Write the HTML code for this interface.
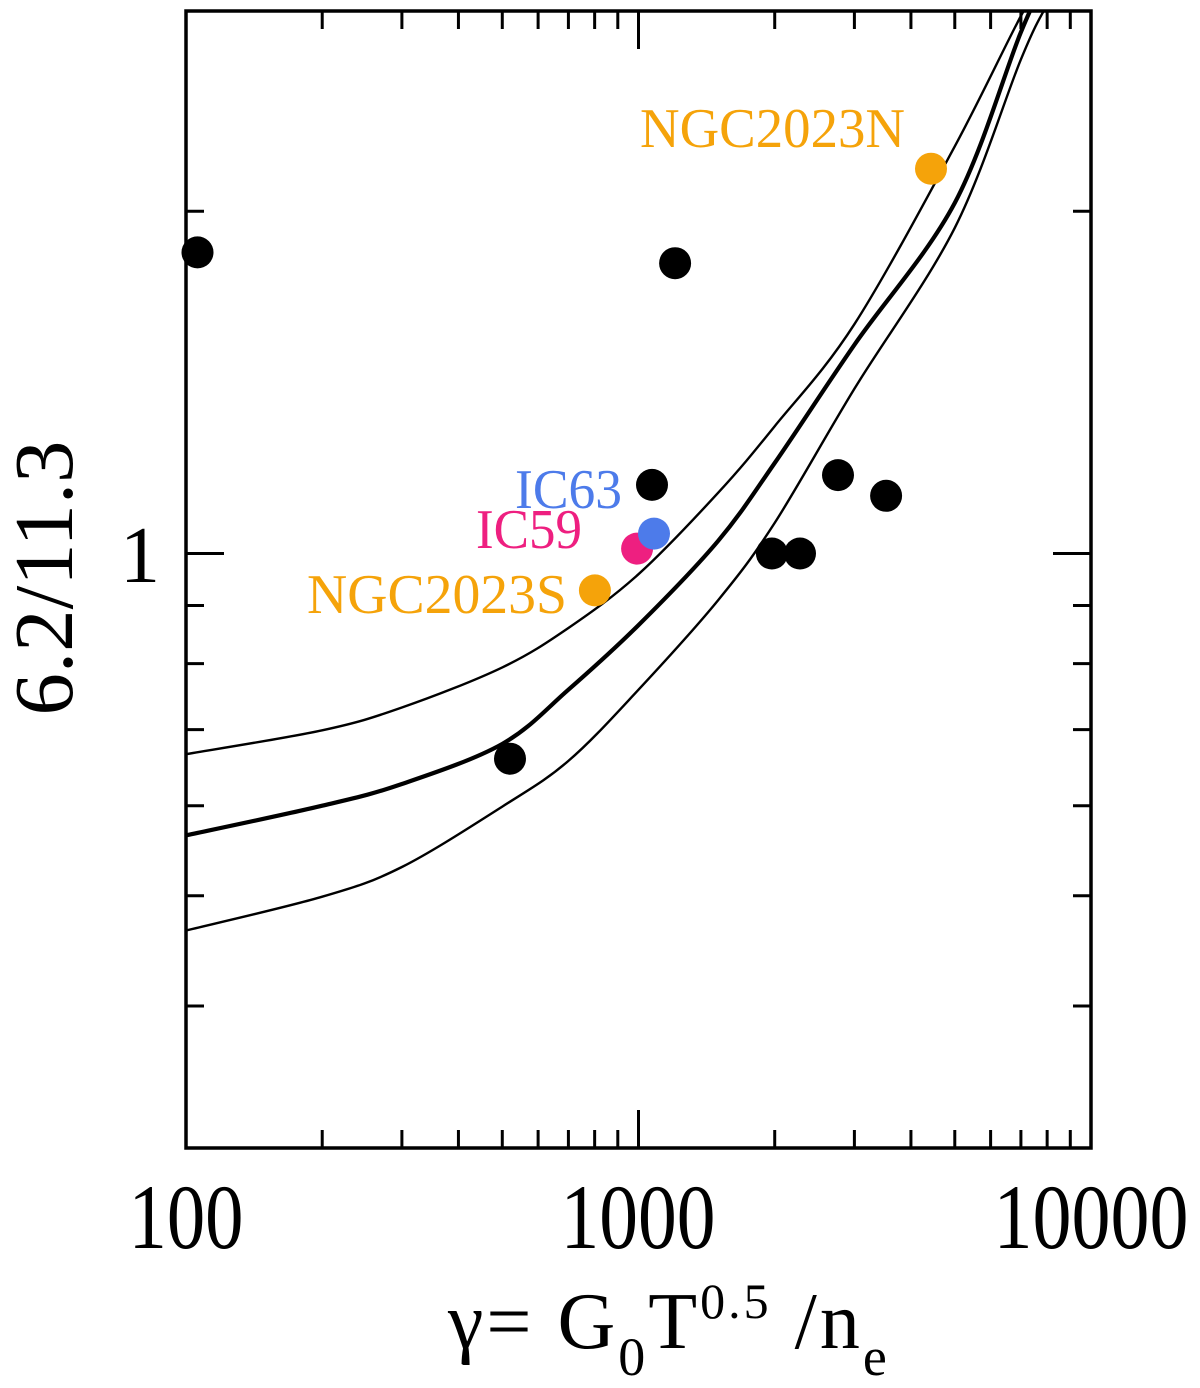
<!DOCTYPE html>
<html><head><meta charset="utf-8"><style>
html,body{margin:0;padding:0;background:#fff;}
svg{display:block;font-family:"Liberation Serif",serif;}
</style></head><body>
<svg id="chart" width="1200" height="1388" viewBox="0 0 1200 1388" xmlns="http://www.w3.org/2000/svg">
<g id="curves"></g>
<g id="points"></g>
<g id="ticks"></g>
<rect x="186" y="11" width="905" height="1137" fill="none" stroke="#000" stroke-width="3.5"/>
<g id="labels"></g>
<text x="186" y="1248" font-size="92" text-anchor="middle" textLength="115" lengthAdjust="spacingAndGlyphs">100</text>
<text x="638" y="1248" font-size="92" text-anchor="middle" textLength="155" lengthAdjust="spacingAndGlyphs">1000</text>
<text x="1091" y="1248" font-size="92" text-anchor="middle" textLength="195" lengthAdjust="spacingAndGlyphs">10000</text>
<text x="160" y="582" font-size="80" text-anchor="end">1</text>
<text transform="translate(72,578) rotate(-90)" font-size="84" text-anchor="middle" textLength="275" lengthAdjust="spacingAndGlyphs">6.2/11.3</text>
<text x="448" y="1348" font-size="80" letter-spacing="3">γ= G<tspan font-size="54" dy="27">0</tspan><tspan dy="-27">T</tspan><tspan font-size="50" dy="-30">0.5</tspan><tspan dy="30"> /n</tspan><tspan font-size="54" dy="27">e</tspan></text>
</svg>
<script>
// data
const gammaGrid = [100, 200, 300, 500, 700, 1000, 1500, 2000, 3000, 5000, 7000, 8000, 9000];
const curveUpper = [0.666, 0.699, 0.732, 0.794, 0.860, 0.959, 1.131, 1.294, 1.591, 2.281, 2.97, 3.23, 3.50];
const curveMiddle = [0.565, 0.600, 0.627, 0.680, 0.759, 0.865, 1.026, 1.201, 1.526, 2.034, 2.874, 3.20, 3.43];
const curveLower = [0.466, 0.499, 0.530, 0.599, 0.657, 0.759, 0.910, 1.064, 1.396, 1.934, 2.72, 3.04, 3.30];
const pointGamma = [106, 1205, 4430, 1071, 2760, 3525, 1972, 2275, 520, 801, 993, 1082];
const pointRatio = [1.84, 1.80, 2.18, 1.149, 1.172, 1.124, 1.0, 1.0, 0.66, 0.928, 1.01, 1.041];
const pointColor = ['#000','#000','#F5A30A','#000','#000','#000','#000','#000','#000','#F5A30A','#EE1F80','#4D7BEA'];
const labelText = ['NGC2023N', 'IC63', 'IC59', 'NGC2023S'];
const labelColor = ['#F5A30A', '#4D7BEA', '#EE1F80', '#F5A30A'];
const xMinorTicks = [200,300,400,500,600,700,800,900,2000,3000,4000,5000,6000,7000,8000,9000];
const xMajorTicks = [1000];
const yMinorTicks = [0.4,0.5,0.6,0.7,0.8,0.9,2];
const yMajorTicks = [1];

const NS = 'http://www.w3.org/2000/svg';
const X0 = 186, X1 = 1091, Y0 = 1148, Y1 = 11;
const xMin = 100, xMax = 10000, yMin = 0.3, yMax = 3.0;
function xs(v){ return X0 + (Math.log10(v) - Math.log10(xMin)) / (Math.log10(xMax) - Math.log10(xMin)) * (X1 - X0); }
function ys(v){ return Y0 - (Math.log10(v) - Math.log10(yMin)) / (Math.log10(yMax) - Math.log10(yMin)) * (Y0 - Y1); }

const svg = document.getElementById('chart');
const defs = document.createElementNS(NS, 'defs');
defs.innerHTML = '<clipPath id="clip"><rect x="186" y="11" width="905" height="1137"/></clipPath>';
svg.insertBefore(defs, svg.firstChild);

function smoothPath(pts){
  let d = 'M' + pts[0][0].toFixed(1) + ',' + pts[0][1].toFixed(1);
  for (let i = 0; i < pts.length - 1; i++){
    const p0 = pts[Math.max(0, i-1)], p1 = pts[i], p2 = pts[i+1], p3 = pts[Math.min(pts.length-1, i+2)];
    const c1x = p1[0] + (p2[0]-p0[0])/6, c1y = p1[1] + (p2[1]-p0[1])/6;
    const c2x = p2[0] - (p3[0]-p1[0])/6, c2y = p2[1] - (p3[1]-p1[1])/6;
    d += 'C' + c1x.toFixed(1)+','+c1y.toFixed(1)+' '+c2x.toFixed(1)+','+c2y.toFixed(1)+' '+p2[0].toFixed(1)+','+p2[1].toFixed(1);
  }
  return d;
}

const cg = document.getElementById('curves');
cg.setAttribute('clip-path', 'url(#clip)');
[[curveUpper,'upper',2.4],[curveMiddle,'middle',4.2],[curveLower,'lower',2.4]].forEach(function(c){
  const pts = gammaGrid.map(function(g, i){ return [xs(g), ys(c[0][i])]; });
  const p = document.createElementNS(NS, 'path');
  p.setAttribute('d', smoothPath(pts));
  p.setAttribute('fill', 'none');
  p.setAttribute('stroke', '#000');
  p.setAttribute('stroke-width', c[2]);
  p.setAttribute('stroke-linejoin', 'round');
  
  
  cg.appendChild(p);
});

const pg = document.getElementById('points');
pointGamma.forEach(function(g, i){
  const c = document.createElementNS(NS, 'circle');
  c.setAttribute('cx', xs(g).toFixed(1));
  c.setAttribute('cy', ys(pointRatio[i]).toFixed(1));
  c.setAttribute('r', 16);
  c.setAttribute('fill', pointColor[i]);
  
  
  pg.appendChild(c);
});

const lg = document.getElementById('labels');
const labelPos = [[640,147,265],[515,508,107],[476,548,106],[307,613,260]];
labelText.forEach(function(t, i){
  const e = document.createElementNS(NS, 'text');
  e.setAttribute('x', labelPos[i][0]);
  e.setAttribute('y', labelPos[i][1]);
  e.setAttribute('font-size', 56);
  e.setAttribute('fill', labelColor[i]);
  e.setAttribute('textLength', labelPos[i][2]);
  e.setAttribute('lengthAdjust', 'spacingAndGlyphs');
  e.textContent = t;
  
  
  lg.appendChild(e);
});

const tg = document.getElementById('ticks');
function line(x1,y1,x2,y2){
  const l = document.createElementNS(NS, 'line');
  l.setAttribute('x1',x1); l.setAttribute('y1',y1); l.setAttribute('x2',x2); l.setAttribute('y2',y2);
  l.setAttribute('stroke','#000'); l.setAttribute('stroke-width',3);
  
  
  tg.appendChild(l);
}
xMinorTicks.forEach(function(v){ const x = xs(v); line(x,Y0,x,Y0-18); line(x,Y1,x,Y1+18); });
xMajorTicks.forEach(function(v){ const x = xs(v); line(x,Y0,x,Y0-38); line(x,Y1,x,Y1+38); });
yMinorTicks.forEach(function(v){ const y = ys(v); line(X0,y,X0+18,y); line(X1,y,X1-18,y); });
yMajorTicks.forEach(function(v){ const y = ys(v); line(X0,y,X0+38,y); line(X1,y,X1-38,y); });
</script>
</body></html>
